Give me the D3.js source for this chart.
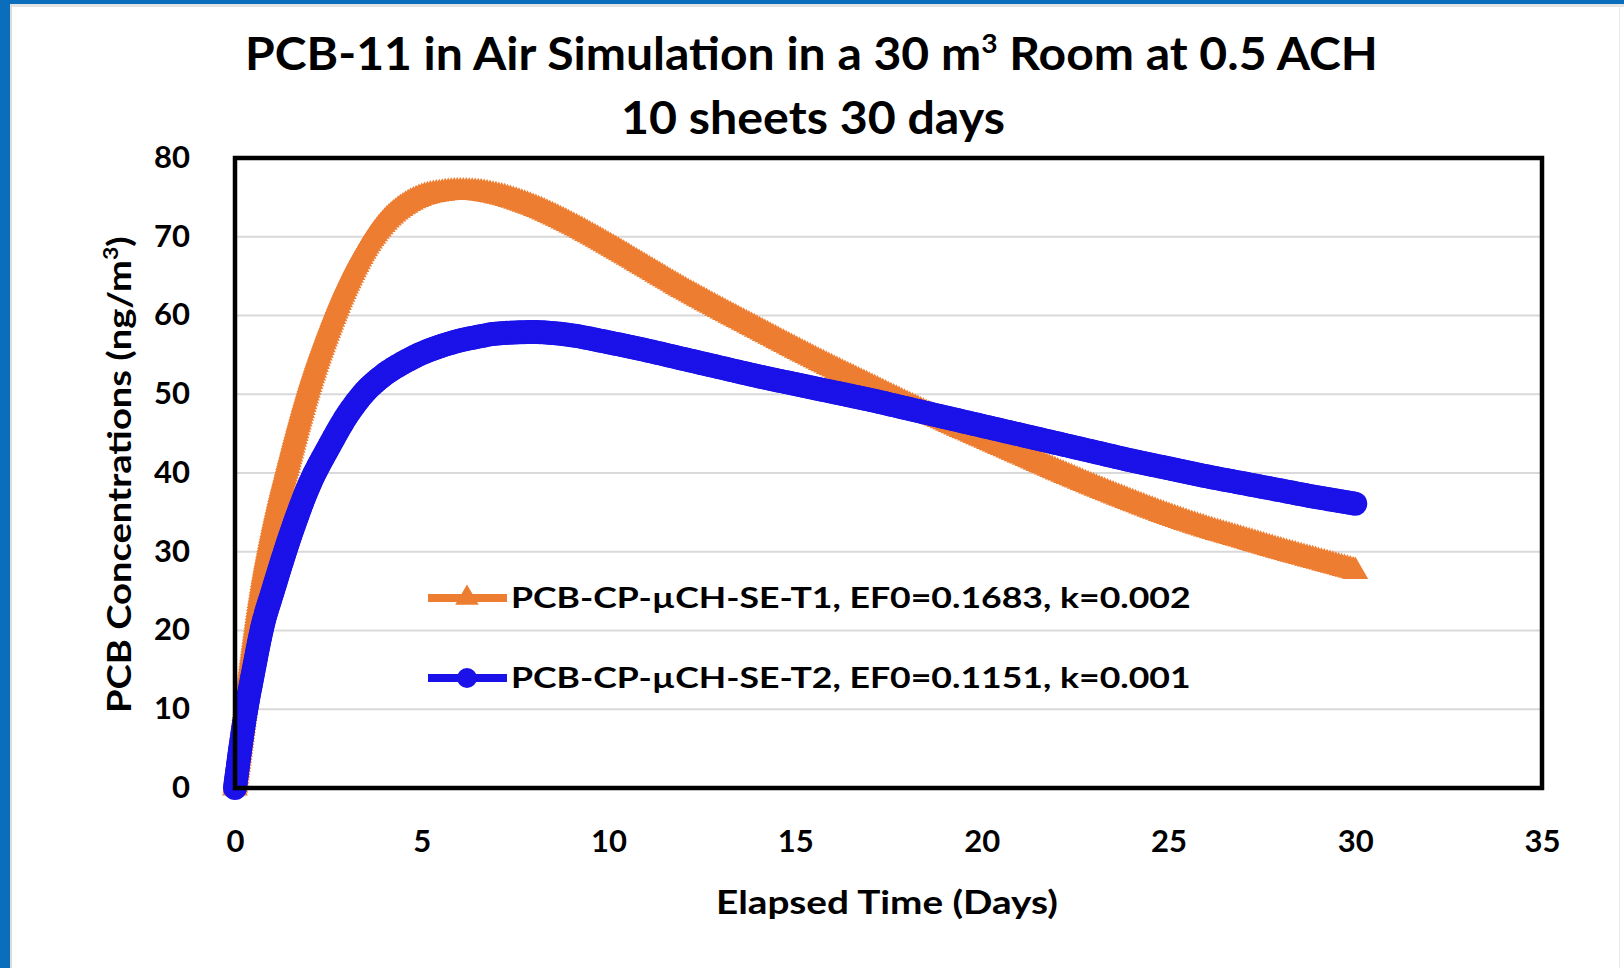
<!DOCTYPE html>
<html>
<head>
<meta charset="utf-8">
<script src="https://cdn.jsdelivr.net/npm/d3@7"></script>
<style>
  html, body { margin: 0; padding: 0; background: #fff; }
  svg { display: block; }
  text { font-family: Lato, "Open Sans", sans-serif; font-weight: bold; fill: #000; }
</style>
</head>
<body>
<div id="main-chart"></div>
<script>
const width = 1624;
const height = 968;
const margin = { left: 235, right: 82, top: 158, bottom: 180 };

// values
const days = [
  0, 0.25, 0.5, 0.75, 1, 1.5, 2, 2.5, 3, 3.5, 4, 4.5, 5, 5.5, 6, 6.5, 7, 8, 9,
  10, 11, 12, 13, 14, 15, 16, 17, 18, 19, 20, 21, 22, 23, 24, 25, 26, 27, 28,
  29, 30,
];
const seriesT1 = [
  0, 9.3, 18.6, 26.6, 32.8, 42.7, 51.3, 58.2, 64.0, 68.6, 71.8, 73.8, 75.0,
  75.5, 75.7, 75.6, 75.2, 73.7, 71.5, 68.9, 66.1, 63.3, 60.7, 58.2, 55.7, 53.3,
  51.0, 48.7, 46.5, 44.4, 42.3, 40.2, 38.2, 36.3, 34.5, 32.9, 31.5, 30.1, 28.8,
  27.5,
];
const seriesT2 = [
  0, 8.5, 15.0, 20.8, 24.8, 32.3, 38.6, 43.2, 47.3, 50.4, 52.5, 54.0, 55.2,
  56.1, 56.8, 57.3, 57.7, 57.9, 57.5, 56.6, 55.6, 54.5, 53.4, 52.3, 51.3, 50.3,
  49.3, 48.2, 47.1, 46.0, 44.9, 43.8, 42.7, 41.6, 40.6, 39.6, 38.7, 37.8, 36.9,
  36.1,
];
const seriesNames = [
  "PCB-CP-\u00b5CH-SE-T1, EF0=0.1683, k=0.002",
  "PCB-CP-\u00b5CH-SE-T2, EF0=0.1151, k=0.001",
];
const xTicks = [0, 5, 10, 15, 20, 25, 30, 35];
const yTicks = [0, 10, 20, 30, 40, 50, 60, 70, 80];

const orange = "#ed7d31";
const blue = "#1a12e8";

const svg = d3
  .select("#main-chart")
  .append("svg")
  .attr("width", width)
  .attr("height", height);

// window frame bits around the slide
svg.append("rect").attr("x", 0).attr("y", 0).attr("width", width).attr("height", height).attr("fill", "#fff");
svg.append("rect").attr("x", 0).attr("y", 0).attr("width", width).attr("height", 4).attr("fill", "#0a6ebd");
svg.append("rect").attr("x", 10).attr("y", 4).attr("width", width - 10).attr("height", 3).attr("fill", "#e4e4e4");
svg.append("rect").attr("x", 0).attr("y", 0).attr("width", 10).attr("height", height).attr("fill", "#0a6ebd");
svg.append("rect").attr("x", 10).attr("y", 4).attr("width", 2).attr("height", height).attr("fill", "#dcdcdc");
svg.append("rect").attr("x", width - 5).attr("y", 4).attr("width", 1).attr("height", height).attr("fill", "#e8e8e8");

const x = d3
  .scaleLinear()
  .domain([0, 35])
  .range([margin.left, width - margin.right]);
const y = d3
  .scaleLinear()
  .domain([0, 80])
  .range([height - margin.bottom, margin.top]);

// squeeze text horizontally to the width it takes in the picture
const fitWidth = (sel, target, cx, cy, rotate = 0) => {
  const w = sel.node().getBBox().width;
  sel.attr("transform", `translate(${cx},${cy}) rotate(${rotate}) scale(${target / w},1)`);
};

// gridlines
svg
  .append("g")
  .selectAll("line")
  .data(yTicks.slice(1, -1))
  .join("line")
  .attr("x1", x(0))
  .attr("x2", x(35))
  .attr("y1", (d) => y(d))
  .attr("y2", (d) => y(d))
  .attr("stroke", "#d9d9d9")
  .attr("stroke-width", 2);

// axes (labels only, Excel style)
const yAxis = svg
  .append("g")
  .attr("transform", `translate(${x(0)},0)`)
  .call(d3.axisLeft(y).tickValues(yTicks).tickSize(0).tickPadding(45));
yAxis.select(".domain").remove();
yAxis.selectAll("text").attr("font-size", 31).attr("font-family", null).attr("dy", "0.3em");

const xAxis = svg
  .append("g")
  .attr("transform", `translate(0,${y(0)})`)
  .call(d3.axisBottom(x).tickValues(xTicks).tickSize(0).tickPadding(42));
xAxis.select(".domain").remove();
xAxis.selectAll("text").attr("font-size", 31).attr("font-family", null).attr("dy", "0.71em");

// series
const line = d3
  .line()
  .x((d) => x(d[0]))
  .y((d) => y(d[1]))
  .curve(d3.curveMonotoneX);

const triangle = d3.symbol(d3.symbolTriangle, 290);

const drawSeries = (values, color, marker) => {
  const pts = days.map((d, i) => [d, values[i]]);
  const g = svg.append("g");
  const path = g
    .append("path")
    .attr("d", line(pts))
    .attr("fill", "none")
    .attr("stroke", color)
    .attr("stroke-width", 10);
  // Excel puts a marker on every data row, so the line reads as a thick band
  const node = path.node();
  const len = node.getTotalLength();
  const along = d3.range(0, len, 3).concat([len]).map((l) => node.getPointAtLength(l));
  if (marker === "triangle") {
    g.selectAll(".mk")
      .data(along)
      .join("path")
      .attr("class", "mk")
      .attr("d", triangle)
      .attr("transform", (p) => `translate(${p.x},${p.y})`)
      .attr("fill", color);
  } else {
    g.selectAll(".mk")
      .data(along)
      .join("circle")
      .attr("class", "mk")
      .attr("cx", (p) => p.x)
      .attr("cy", (p) => p.y)
      .attr("r", 12)
      .attr("fill", color);
  }
};

drawSeries(seriesT1, orange, "triangle");
drawSeries(seriesT2, blue, "circle");

// plot frame
svg
  .append("rect")
  .attr("x", x(0))
  .attr("y", y(80))
  .attr("width", x(35) - x(0))
  .attr("height", y(0) - y(80))
  .attr("fill", "none")
  .attr("stroke", "#000")
  .attr("stroke-width", 4.5);

// legend
const legend = svg.append("g");
const legendRows = [
  { name: seriesNames[0], color: orange, marker: "triangle", y: 598 },
  { name: seriesNames[1], color: blue, marker: "circle", y: 678 },
];
legendRows.forEach((r) => {
  legend
    .append("line")
    .attr("x1", 428)
    .attr("x2", 507)
    .attr("y1", r.y)
    .attr("y2", r.y)
    .attr("stroke", r.color)
    .attr("stroke-width", 8);
  if (r.marker === "triangle") {
    legend
      .append("path")
      .attr("d", d3.symbol(d3.symbolTriangle, 240))
      .attr("transform", `translate(467,${r.y})`)
      .attr("fill", r.color);
  } else {
    legend
      .append("circle")
      .attr("cx", 467)
      .attr("cy", r.y)
      .attr("r", 10)
      .attr("fill", r.color);
  }
  const t = legend
    .append("text")
    .attr("font-size", 29)
    .attr("dy", "0.36em")
    .text(r.name);
  fitWidth(t, 680, 511, r.y);
});

// titles
const title1 = svg.append("text").attr("font-size", 46).attr("text-anchor", "start");
title1.append("tspan").text("PCB-11 in Air Simulation in a 30 m");
title1.append("tspan").attr("font-size", 27).attr("dy", -17).text("3");
title1.append("tspan").attr("dy", 17).text(" Room at 0.5 ACH");
fitWidth(title1, 1133, 245, 70);

const title2 = svg.append("text").attr("font-size", 46).text("10 sheets 30 days");
fitWidth(title2, 384, 621, 134);

const xTitle = svg.append("text").attr("font-size", 33).text("Elapsed Time (Days)");
fitWidth(xTitle, 342, 716, 914);

const yTitle = svg.append("text").attr("font-size", 33);
yTitle.append("tspan").text("PCB Concentrations (ng/m");
yTitle.append("tspan").attr("font-size", 20).attr("dy", -13).text("3");
yTitle.append("tspan").attr("dy", 13).text(")");
fitWidth(yTitle, 477, 131, 713, -90);
</script>
</body>
</html>
